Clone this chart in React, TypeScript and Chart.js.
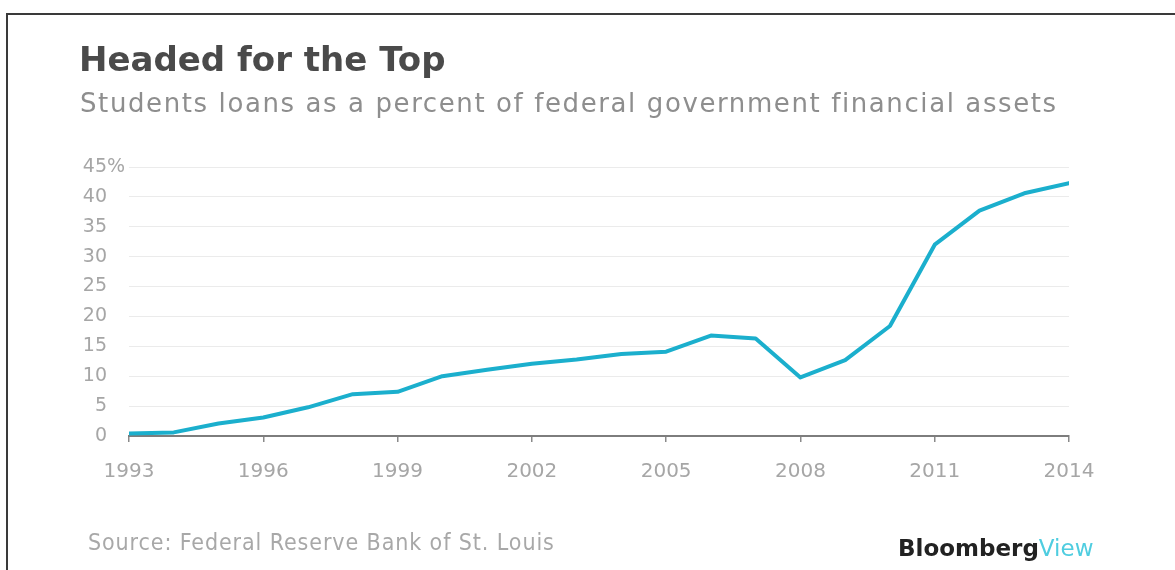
import React, { useEffect, useRef } from "react";
import { Chart, registerables } from "chart.js";

Chart.register(...registerables);

const years = [1993, 1994, 1995, 1996, 1997, 1998, 1999, 2000, 2001, 2002, 2003, 2004, 2005, 2006, 2007, 2008, 2009, 2010, 2011, 2012, 2013, 2014];
const loanShare = [0.4, 0.6, 2.1, 3.1, 4.8, 7.0, 7.4, 10.0, 11.1, 12.1, 12.8, 13.7, 14.1, 16.8, 16.3, 9.8, 12.7, 18.4, 32.0, 37.7, 40.6, 42.3];
const xTickValues = [1993, 1996, 1999, 2002, 2005, 2008, 2011, 2014];
const yTickValues = [0, 5, 10, 15, 20, 25, 30, 35, 40, 45];

const LINE_COLOR = "#1bafcd";
const LABEL_COLOR = "#a6a6a6";
const FONT = "'DejaVu Sans', sans-serif";

export default function App() {
  const ref = useRef<HTMLCanvasElement | null>(null);

  useEffect(() => {
    if (!ref.current) return;
    const yLabels = {
      id: "yLabels",
      afterDraw(chart: any) {
        const ctx = chart.ctx;
        const ys = chart.scales.y;
        ctx.save();
        ctx.font = `19px ${FONT}`;
        ctx.fillStyle = LABEL_COLOR;
        ctx.textBaseline = "middle";
        yTickValues.forEach((v) => {
          const py = ys.getPixelForValue(v);
          ctx.textAlign = "right";
          ctx.fillText(String(v), 107, py);
          if (v === 45) {
            ctx.textAlign = "left";
            ctx.fillText("%", 107, py);
          }
        });
        ctx.restore();
      },
    };

    const chart = new Chart(ref.current, {
      type: "line",
      data: {
        datasets: [
          {
            data: years.map((x, i) => ({ x, y: loanShare[i] })),
            borderColor: LINE_COLOR,
            borderWidth: 4,
            pointRadius: 0,
            tension: 0,
            borderJoinStyle: "round",
            borderCapStyle: "round",
          },
        ],
      },
      options: {
        animation: false,
        responsive: false,
        maintainAspectRatio: false,
        layout: { padding: { left: 129, right: 106, top: 167, bottom: 68 } },
        plugins: { legend: { display: false }, tooltip: { enabled: false } },
        scales: {
          x: {
            type: "linear",
            min: 1993,
            max: 2014,
            afterBuildTicks: (s: any) => {
              s.ticks = xTickValues.map((v) => ({ value: v }));
            },
            ticks: {
              callback: (v: any) => String(v),
              font: { family: FONT, size: 20 },
              color: LABEL_COLOR,
              padding: 18,
              maxRotation: 0,
              autoSkip: false,
            },
            grid: {
              drawOnChartArea: false,
              drawTicks: true,
              tickLength: 6,
              color: "#8a8a8a",
              lineWidth: 1.5,
            },
            border: { color: "#7d7d7d", width: 2 },
          },
          y: {
            min: 0,
            max: 45,
            afterBuildTicks: (s: any) => {
              s.ticks = yTickValues.map((v) => ({ value: v }));
            },
            ticks: { display: false },
            grid: {
              color: (c: any) => (c.tick && c.tick.value === 0 ? "rgba(0,0,0,0)" : "#ebebeb"),
              drawTicks: false,
              lineWidth: 1,
            },
            border: { display: false },
          },
        },
      },
      plugins: [yLabels],
    } as any);
    return () => chart.destroy();
  }, []);

  return (
    <div style={{ position: "fixed", left: 0, top: 0, width: 1175, height: 570, background: "#fff", overflow: "hidden" }}>
      <div style={{ position: "absolute", left: 6, top: 13, width: 1169, height: 600, borderLeft: "2px solid #3a3a3a", borderTop: "2px solid #3a3a3a" }} />
      <canvas ref={ref} width={1175} height={570} style={{ position: "absolute", left: 0, top: 0, width: 1175, height: 570 }} />
      <div style={{ position: "absolute", left: 79, top: 38, fontFamily: FONT, fontWeight: 700, fontSize: 34, lineHeight: "42px", color: "#4a4a4a", whiteSpace: "nowrap" }}>
        Headed for the Top
      </div>
      <div style={{ position: "absolute", left: 80, top: 88, fontFamily: FONT, fontWeight: 400, fontSize: 26, lineHeight: "31px", letterSpacing: 1.6, color: "#8e8e8e", whiteSpace: "nowrap" }}>
        Students loans as a percent of federal government financial assets
      </div>
      <div style={{ position: "absolute", left: 88, top: 528, fontFamily: "'DejaVu Sans Condensed', 'DejaVu Sans', sans-serif", fontStretch: "condensed", fontSize: 23, lineHeight: "28px", letterSpacing: 0.9, color: "#a8a8a8", whiteSpace: "nowrap" }}>
        Source: Federal Reserve Bank of St. Louis
      </div>
      <div style={{ position: "absolute", left: 898, top: 535, fontFamily: FONT, fontSize: 23, lineHeight: "26px", fontWeight: 700, color: "#222", whiteSpace: "nowrap" }}>
        Bloomberg<span style={{ color: "#4fcde0", fontWeight: 400 }}>View</span>
      </div>
    </div>
  );
}
